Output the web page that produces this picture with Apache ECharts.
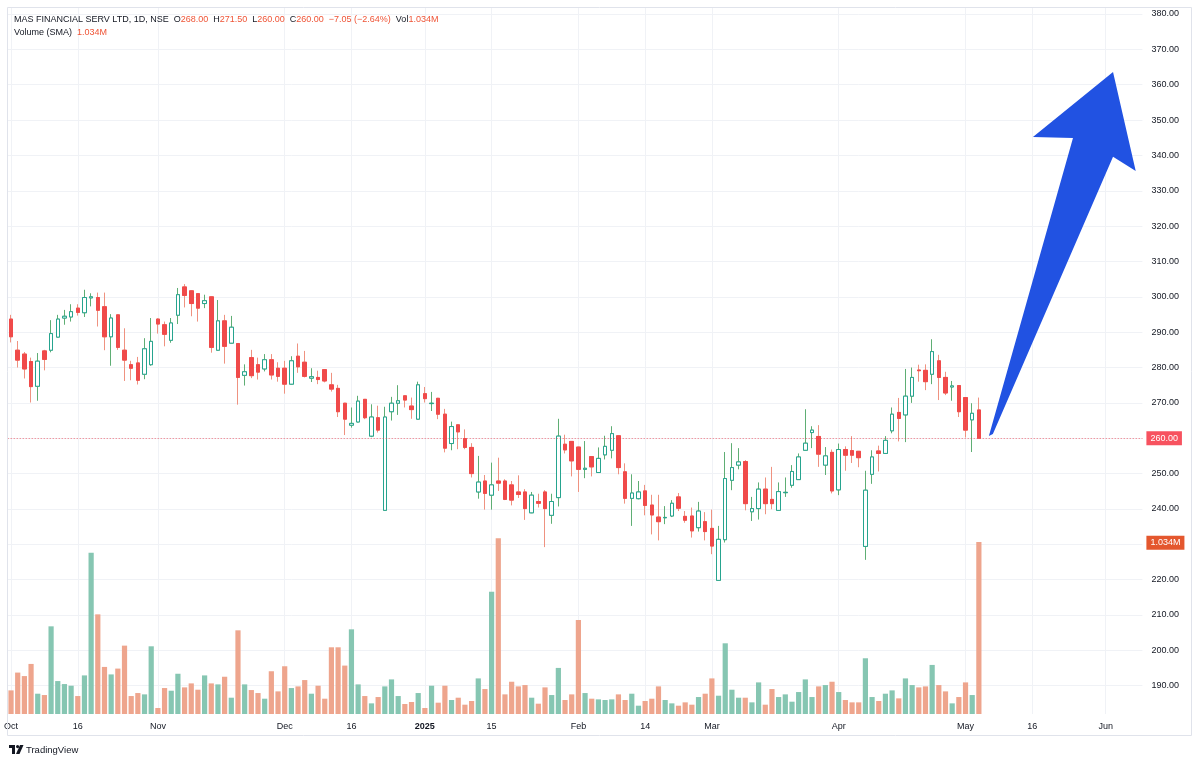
<!DOCTYPE html>
<html>
<head>
<meta charset="utf-8">
<title>MAS FINANCIAL SERV LTD, 1D, NSE</title>
<script src="https://cdn.jsdelivr.net/npm/echarts@6/dist/echarts.min.js"></script>
<style>
html, body { margin: 0; padding: 0; background: #ffffff; }
#chart { width: 1200px; height: 765px; }
</style>
</head>
<body>
<div id="chart"></div>
<script>
// trading calendar (NSE): weekdays minus holidays, plus the budget-day saturday session
var firstDay = '2024-10-01';
var lastDay = '2025-06-09';
var holidays = ['2024-10-02', '2024-11-15', '2024-11-20', '2024-12-25', '2025-02-26',
	'2025-03-14', '2025-03-31', '2025-04-10', '2025-04-14', '2025-04-18', '2025-05-01'];
var specialSessions = ['2025-02-01'];

// x axis labels
var tickDates = ['2024-10-01', '2024-10-16', '2024-11-01', '2024-12-02', '2024-12-16', '2025-01-01',
	'2025-01-15', '2025-02-01', '2025-02-14', '2025-03-03', '2025-04-01', '2025-05-02', '2025-05-16', '2025-06-02'];
var tickLabels = ['Oct', '16', 'Nov', 'Dec', '16', '2025', '15', 'Feb', '14', 'Mar', 'Apr', 'May', '16', 'Jun'];

// daily candles, 2024-10-01 .. 2025-05-06
var opens = [293.7, 284.9, 283.8, 281.7, 274.7, 284.7, 284.9, 288.6, 294.0, 294.3,
	296.8, 295.5, 299.7, 299.8, 297.2, 288.7, 294.9, 284.9, 280.8, 281.3,
	278.1, 280.8, 293.7, 292.1, 287.7, 294.8, 302.8, 301.7, 300.9, 298.1,
	300.0, 284.9, 293.2, 286.9, 286.8, 277.8, 282.8, 280.8, 279.6, 282.2,
	279.8, 279.8, 275.3, 283.2, 281.5, 277.0, 277.2, 279.4, 275.1, 274.1,
	269.9, 263.7, 264.6, 271.0, 260.6, 265.8, 239.6, 267.5, 269.9, 272.0,
	269.1, 265.4, 272.6, 269.8, 271.3, 266.8, 258.5, 263.8, 259.9, 257.4,
	244.8, 247.9, 243.9, 247.9, 247.9, 246.8, 244.8, 244.8, 238.9, 242.1,
	244.8, 238.2, 243.2, 258.3, 259.1, 257.5, 251.2, 254.8, 250.3, 255.3,
	256.6, 260.7, 250.5, 243.0, 242.9, 245.1, 241.1, 237.7, 237.5, 238.0,
	243.4, 237.9, 238.0, 234.7, 236.4, 234.5, 219.8, 231.3, 248.1, 252.4,
	253.4, 239.2, 240.1, 245.6, 242.7, 239.6, 244.6, 246.7, 248.3, 256.6,
	261.6, 260.5, 252.4, 256.0, 245.4, 256.8, 256.5, 256.3, 229.4, 249.8,
	256.4, 255.7, 262.1, 267.3, 266.6, 271.9, 279.3, 279.2, 278.1, 281.9,
	277.2, 274.5, 274.9, 271.5, 265.2, 268.0];
var highs = [294.9, 287.5, 284.4, 282.8, 284.1, 285.0, 293.4, 294.9, 296.3, 297.9,
	297.9, 302.0, 301.0, 301.2, 301.2, 295.1, 295.0, 291.1, 281.9, 283.0,
	288.3, 294.0, 293.9, 293.0, 294.0, 302.5, 303.6, 301.9, 301.0, 300.6,
	300.1, 299.1, 294.9, 294.6, 286.9, 280.9, 285.0, 282.8, 283.8, 283.8,
	281.5, 281.9, 283.2, 286.8, 284.7, 279.8, 279.1, 279.5, 278.5, 275.1,
	270.0, 268.7, 272.0, 271.1, 269.6, 269.2, 268.9, 271.7, 275.0, 272.1,
	271.5, 276.0, 274.5, 273.1, 271.4, 268.3, 264.7, 263.9, 262.5, 258.6,
	255.0, 249.6, 253.1, 254.5, 248.4, 247.9, 249.5, 245.6, 244.8, 244.3,
	245.3, 244.3, 265.5, 261.0, 259.2, 257.6, 259.2, 254.9, 257.4, 260.7,
	263.4, 260.8, 252.9, 249.8, 247.9, 246.8, 244.0, 244.0, 240.8, 242.5,
	244.5, 239.4, 240.4, 242.0, 239.1, 239.8, 235.2, 256.1, 258.6, 257.2,
	253.8, 243.4, 247.5, 248.9, 251.9, 247.5, 248.9, 252.4, 255.7, 268.2,
	263.4, 263.7, 257.5, 256.8, 258.5, 257.7, 260.6, 256.4, 250.8, 256.6,
	257.9, 260.6, 268.7, 271.4, 279.6, 280.0, 280.8, 280.9, 288.0, 283.6,
	278.8, 276.2, 275.0, 271.6, 269.9, 271.5];
var lows = [287.1, 280.0, 276.9, 270.1, 270.6, 279.2, 284.3, 288.5, 292.1, 293.0,
	294.7, 294.3, 297.3, 291.6, 284.9, 280.5, 285.0, 276.2, 276.4, 275.2,
	276.7, 280.5, 289.6, 286.0, 287.0, 292.3, 297.0, 294.5, 293.0, 296.8,
	284.2, 284.7, 281.1, 286.8, 269.5, 274.9, 277.0, 276.6, 278.9, 276.6,
	276.0, 272.6, 275.2, 278.5, 277.2, 275.9, 275.3, 275.8, 273.2, 266.0,
	260.9, 263.0, 264.5, 265.4, 260.3, 261.6, 239.5, 265.0, 266.6, 268.7,
	265.5, 265.3, 270.1, 267.7, 265.4, 256.0, 256.6, 256.9, 256.9, 248.9,
	242.9, 239.8, 239.8, 245.1, 242.5, 241.0, 243.1, 236.9, 238.8, 240.4,
	229.2, 235.8, 240.7, 255.7, 249.2, 244.8, 248.7, 249.2, 250.2, 254.0,
	254.3, 249.8, 241.5, 235.2, 242.7, 238.2, 232.8, 231.1, 235.7, 237.7,
	239.4, 236.1, 231.9, 233.6, 231.1, 227.2, 219.7, 230.5, 245.3, 251.2,
	239.6, 236.6, 237.0, 238.5, 239.9, 239.5, 243.4, 246.0, 248.2, 256.5,
	257.2, 251.9, 249.6, 244.4, 243.9, 250.8, 253.0, 251.8, 225.6, 247.1,
	250.6, 255.6, 261.4, 259.1, 258.9, 270.0, 276.0, 273.6, 275.3, 270.8,
	272.2, 270.6, 266.0, 260.2, 256.1, 260.0];
var closes = [288.7, 282.1, 279.6, 274.6, 281.8, 282.3, 289.6, 293.7, 294.5, 295.8,
	295.6, 299.8, 300.0, 296.2, 288.7, 294.0, 285.7, 282.1, 279.8, 276.4,
	285.3, 287.4, 292.3, 289.4, 292.6, 300.6, 300.4, 298.1, 296.8, 298.9,
	285.7, 293.2, 286.0, 291.4, 277.2, 278.8, 277.7, 278.7, 282.2, 277.9,
	277.5, 275.3, 281.9, 280.2, 277.5, 277.4, 276.6, 276.2, 273.9, 267.5,
	265.4, 264.2, 270.5, 265.8, 266.0, 262.3, 266.0, 269.9, 270.6, 270.8,
	268.1, 275.1, 271.2, 269.9, 266.8, 257.2, 263.3, 261.8, 257.4, 250.0,
	247.6, 244.4, 246.8, 247.3, 242.7, 242.5, 244.1, 240.1, 243.9, 241.6,
	240.1, 242.1, 260.6, 256.7, 253.6, 251.2, 251.5, 251.9, 254.3, 257.7,
	261.3, 251.7, 243.0, 244.5, 244.8, 241.0, 238.3, 236.4, 237.6, 241.6,
	240.2, 236.8, 233.8, 239.4, 233.6, 229.5, 231.4, 248.6, 251.7, 253.3,
	241.5, 240.1, 245.6, 241.5, 241.5, 244.9, 244.7, 250.6, 254.7, 258.6,
	262.3, 255.5, 255.0, 245.1, 256.8, 255.2, 255.2, 254.5, 245.3, 254.7,
	255.7, 259.4, 266.8, 265.6, 271.9, 277.2, 279.1, 276.0, 284.5, 277.2,
	272.8, 274.8, 267.5, 262.3, 267.05, 260.0];
// volume, millions of shares
var volumes = [0.142, 0.249, 0.228, 0.301, 0.122, 0.114, 0.527, 0.198, 0.180, 0.170,
	0.108, 0.232, 0.970, 0.599, 0.283, 0.238, 0.273, 0.411, 0.108, 0.126,
	0.118, 0.407, 0.036, 0.156, 0.140, 0.242, 0.160, 0.184, 0.146, 0.232,
	0.184, 0.178, 0.224, 0.098, 0.503, 0.178, 0.144, 0.126, 0.092, 0.257,
	0.136, 0.287, 0.156, 0.166, 0.204, 0.122, 0.170, 0.092, 0.401, 0.401,
	0.291, 0.509, 0.178, 0.108, 0.064, 0.102, 0.166, 0.208, 0.108, 0.060,
	0.072, 0.126, 0.036, 0.170, 0.068, 0.170, 0.084, 0.098, 0.056, 0.078,
	0.214, 0.150, 0.735, 1.056, 0.118, 0.194, 0.166, 0.174, 0.098, 0.062,
	0.160, 0.114, 0.277, 0.084, 0.118, 0.565, 0.126, 0.092, 0.088, 0.084,
	0.088, 0.118, 0.084, 0.122, 0.050, 0.078, 0.092, 0.166, 0.084, 0.064,
	0.050, 0.070, 0.056, 0.102, 0.122, 0.214, 0.110, 0.425, 0.146, 0.098,
	0.098, 0.070, 0.190, 0.056, 0.150, 0.102, 0.118, 0.074, 0.132, 0.208,
	0.102, 0.166, 0.174, 0.194, 0.132, 0.084, 0.070, 0.070, 0.335, 0.102,
	0.078, 0.122, 0.142, 0.094, 0.214, 0.174, 0.160, 0.166, 0.295, 0.174,
	0.136, 0.064, 0.102, 0.190, 0.114, 1.034];

// hand-drawn arrow, in (bar index, price) units
var arrowIdx = [146.5, 159.1, 153.1, 165.1, 168.5, 165.1, 147.1];
var arrowPrice = [260.6, 344.9, 345.2, 363.6, 335.6, 339.6, 261.2];

var font = 'Liberation Sans, Arial, sans-serif';
var txt = '#131722';
var upBorder = '#26a48f', downBody = '#f04a4a';
var upWick = '#5fae74', downWick = '#ef9280';
var volUp = '#86c6b2', volDown = '#eea58d';
var redVal = '#ef5436';

function tradingDays(from, to) {
	var out = [];
	var d = new Date(from + 'T00:00:00Z');
	var end = new Date(to + 'T00:00:00Z');
	while (d <= end) {
		var s = d.toISOString().slice(0, 10);
		var wd = d.getUTCDay();
		if ((wd > 0 && wd < 6 && holidays.indexOf(s) < 0) || specialSessions.indexOf(s) >= 0) {
			out.push(s);
		}
		d.setUTCDate(d.getUTCDate() + 1);
	}
	return out;
}
var dates = tradingDays(firstDay, lastDay);

var n = closes.length - 1;
var lastClose = closes[n];
var change = closes[n] - closes[n - 1];
var changePct = change / closes[n - 1] * 100;
function fmtSigned(v) { return (v < 0 ? '\u2212' : '+') + Math.abs(v).toFixed(2); }

var candles = opens.map(function(o, i) { return [o, closes[i], lows[i], highs[i]]; });
var bodies = opens.map(function(o, i) {
	return [o, closes[i], Math.min(o, closes[i]), Math.max(o, closes[i])];
});
var volData = volumes.map(function(v, i) {
	return { value: v, itemStyle: { color: closes[i] >= opens[i] ? volUp : volDown } };
});

function isTick(idx, value) { return tickDates.indexOf(value) >= 0; }

function coordAt(api, x, y) {
	var i0 = Math.floor(x), f = x - i0;
	var a = api.coord([i0, y]), b = api.coord([i0 + 1, y]);
	return [a[0] + (b[0] - a[0]) * f, a[1]];
}

var rich = {
	t: { fontSize: 9, fontFamily: font, fontWeight: 'normal', color: txt },
	v: { fontSize: 9, fontFamily: font, fontWeight: 'normal', color: redVal }
};

var myChart = echarts.init(document.getElementById('chart'));
var option = {
	animation: false,
	backgroundColor: '#ffffff',
	title: [{
		left: 14, top: 15, padding: 0,
		text: '{t|MAS FINANCIAL SERV LTD, 1D, NSE}  {t|O}{v|' + opens[n].toFixed(2) + '}  {t|H}{v|' + highs[n].toFixed(2) +
			'}  {t|L}{v|' + lows[n].toFixed(2) + '}  {t|C}{v|' + closes[n].toFixed(2) + '}  {v|' + fmtSigned(change) +
			' (' + fmtSigned(changePct) + '%)}  {t|Vol}{v|' + volumes[n].toFixed(3) + 'M}',
		textStyle: { fontWeight: 'normal', fontSize: 9, rich: rich }
	}, {
		left: 14, top: 28, padding: 0,
		text: '{t|Volume (SMA)}  {v|' + volumes[n].toFixed(3) + 'M}',
		textStyle: { fontWeight: 'normal', fontSize: 9, rich: rich }
	}],
	grid: [
		{ left: 7.7, right: 57.6, top: 14, bottom: 79.3, outerBoundsMode: 'none' },
		{ left: 7.7, right: 57.6, top: 7, bottom: 51, outerBoundsMode: 'none' }
	],
	xAxis: [{
		type: 'category', gridIndex: 0, data: dates, show: false
	}, {
		type: 'category', gridIndex: 1, data: dates,
		axisLine: { show: false },
		axisTick: { show: false },
		axisLabel: {
			interval: isTick,
			margin: 8,
			color: txt,
			fontSize: 9,
			fontFamily: font,
			formatter: function(value) {
				var s = tickLabels[tickDates.indexOf(value)];
				return s === '2025' ? '{b|' + s + '}' : s;
			},
			rich: { b: { fontWeight: 'bold', fontSize: 9, fontFamily: font, color: txt } }
		},
		splitLine: {
			show: true,
			interval: isTick,
			alignWithLabel: true,
			lineStyle: { color: '#f0f2f6', width: 1 }
		}
	}],
	yAxis: [{
		type: 'value', gridIndex: 0, position: 'right',
		min: 190, max: 380, interval: 10,
		axisLine: { show: false },
		axisTick: { show: false },
		axisLabel: {
			margin: 9, color: txt, fontSize: 9, fontFamily: font,
			formatter: function(v) { return v.toFixed(2); }
		},
		splitLine: { lineStyle: { color: '#f0f2f6', width: 1 } }
	}, {
		type: 'value', gridIndex: 1, min: 0, max: 4.25, show: false
	}],
	series: [{
		name: 'Volume', type: 'bar', xAxisIndex: 1, yAxisIndex: 1,
		data: volData, barWidth: '78%', silent: true,
		markLine: {
			silent: true, symbol: ['none', 'none'],
			lineStyle: { color: 'rgba(0,0,0,0)', width: 1 },
			label: {
				position: 'end', distance: 4,
				formatter: volumes[n].toFixed(3) + 'M',
				backgroundColor: '#e4572e', color: '#ffffff',
				fontSize: 9, fontFamily: font, padding: [3, 4, 2, 4]
			},
			data: [{ yAxis: volumes[n] }]
		}
	}, {
		name: 'wicks', type: 'candlestick', xAxisIndex: 0, yAxisIndex: 0,
		data: candles, barWidth: 4, silent: true,
		itemStyle: { color: upWick, color0: downWick, borderColor: upWick, borderColor0: downWick, borderWidth: 1 }
	}, {
		name: 'MAS FINANCIAL SERV LTD', type: 'candlestick', xAxisIndex: 0, yAxisIndex: 0,
		data: bodies, barWidth: 4, silent: true,
		itemStyle: { color: '#ffffff', color0: downBody, borderColor: upBorder, borderColor0: downBody, borderWidth: 1 },
		markLine: {
			silent: true, symbol: ['none', 'none'],
			lineStyle: { color: 'rgba(242,54,69,0.7)', type: [1, 2], width: 1 },
			label: {
				position: 'end', distance: 4,
				formatter: lastClose.toFixed(2),
				backgroundColor: '#f7525f', color: '#ffffff',
				fontSize: 9, fontFamily: font, padding: [3, 4, 2, 4]
			},
			data: [{ yAxis: lastClose }]
		}
	}, {
		name: 'arrow', type: 'custom', xAxisIndex: 0, yAxisIndex: 0,
		clip: false, silent: true, z: 10,
		data: [[arrowIdx[0], arrowPrice[0]]],
		renderItem: function(params, api) {
			var pts = arrowIdx.map(function(x, i) { return coordAt(api, x, arrowPrice[i]); });
			return { type: 'polygon', shape: { points: pts }, style: { fill: '#2152e2' } };
		}
	}],
	graphic: [{
		type: 'rect', silent: true, z: 100,
		shape: { x: 7.5, y: 7.5, width: 1184, height: 728 },
		style: { fill: 'none', stroke: '#e0e3eb', lineWidth: 1 }
	}, {
		type: 'group', left: 9, top: 745, silent: true,
		children: [
			{ type: 'rect', shape: { x: 0, y: 0, width: 6, height: 3 }, style: { fill: txt } },
			{ type: 'rect', shape: { x: 3, y: 0, width: 3, height: 9 }, style: { fill: txt } },
			{ type: 'circle', shape: { cx: 8.6, cy: 1.6, r: 1.6 }, style: { fill: txt } },
			{ type: 'polygon', shape: { points: [[11, 0], [14.5, 0], [10.5, 9], [7, 9]] }, style: { fill: txt } },
			{ type: 'text', x: 17, y: 0, style: { text: 'TradingView', fontSize: 9.5, fontFamily: font, fill: txt } }
		]
	}]
};
myChart.setOption(option);
window.addEventListener('resize', function() {
	myChart.resize();
});
</script>
</body>
</html>
